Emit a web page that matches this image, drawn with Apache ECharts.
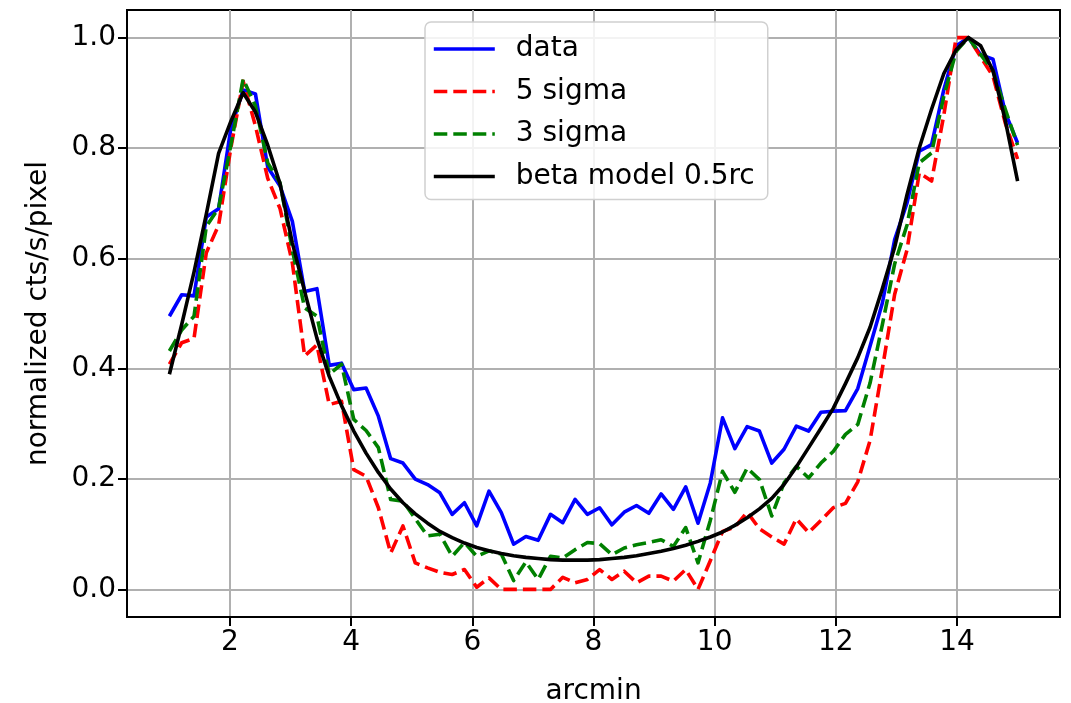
<!DOCTYPE html>
<html><head><meta charset="utf-8">
<script src="https://cdn.jsdelivr.net/npm/echarts@6/dist/echarts.min.js"></script>
<style>html,body{margin:0;padding:0;background:#fff}#c{width:1071px;height:703px}</style>
</head><body><div id="c"></div>
<script>
const xArcmin = [1.000,1.203,1.406,1.609,1.812,2.014,2.217,2.420,2.623,2.826,
3.029,3.232,3.435,3.638,3.841,4.043,4.246,4.449,4.652,4.855,
5.058,5.261,5.464,5.667,5.870,6.072,6.275,6.478,6.681,6.884,
7.087,7.290,7.493,7.696,7.899,8.101,8.304,8.507,8.710,8.913,
9.116,9.319,9.522,9.725,9.928,10.130,10.333,10.536,10.739,10.942,
11.145,11.348,11.551,11.754,11.957,12.159,12.362,12.565,12.768,12.971,
13.174,13.377,13.580,13.783,13.986,14.188,14.391,14.594,14.797,15.000];

const dataVals = [0.495,0.534,0.532,0.675,0.690,0.835,0.905,0.898,0.765,0.731,
0.667,0.540,0.545,0.406,0.410,0.362,0.365,0.314,0.237,0.229,
0.200,0.190,0.175,0.136,0.157,0.115,0.178,0.139,0.082,0.096,
0.089,0.136,0.121,0.163,0.136,0.148,0.117,0.140,0.152,0.138,
0.173,0.145,0.186,0.120,0.193,0.311,0.255,0.295,0.287,0.229,
0.254,0.296,0.287,0.321,0.323,0.324,0.364,0.441,0.519,0.634,
0.700,0.794,0.806,0.906,0.985,1.000,0.969,0.961,0.864,0.809];

const sigma5Vals = [0.408,0.447,0.455,0.610,0.660,0.800,0.921,0.840,0.745,0.690,
0.592,0.423,0.443,0.335,0.341,0.217,0.205,0.148,0.066,0.115,
0.048,0.039,0.031,0.027,0.036,0.004,0.021,0.000,0.000,0.000,
0.000,0.000,0.022,0.012,0.018,0.036,0.018,0.033,0.012,0.024,
0.024,0.015,0.036,0.000,0.052,0.105,0.113,0.140,0.110,0.095,
0.082,0.128,0.103,0.125,0.148,0.156,0.195,0.270,0.400,0.535,
0.615,0.755,0.740,0.860,1.000,1.000,0.965,0.930,0.845,0.780];

const sigma3Vals = [0.432,0.470,0.495,0.658,0.691,0.805,0.925,0.876,0.773,0.737,
0.615,0.510,0.495,0.390,0.408,0.308,0.288,0.257,0.163,0.160,
0.128,0.097,0.100,0.060,0.085,0.060,0.070,0.064,0.016,0.050,
0.018,0.060,0.057,0.072,0.085,0.083,0.063,0.075,0.081,0.085,
0.090,0.078,0.112,0.048,0.125,0.214,0.176,0.220,0.199,0.133,
0.193,0.223,0.202,0.229,0.250,0.281,0.299,0.374,0.480,0.590,
0.660,0.773,0.791,0.894,0.975,1.000,0.969,0.940,0.870,0.805];

const betaVals = [0.390,0.480,0.575,0.680,0.790,0.848,0.900,0.865,0.805,0.735,
0.628,0.540,0.455,0.386,0.333,0.287,0.247,0.212,0.182,0.157,
0.137,0.120,0.105,0.094,0.084,0.076,0.070,0.065,0.061,0.058,
0.056,0.054,0.053,0.053,0.053,0.054,0.056,0.058,0.061,0.065,
0.069,0.074,0.080,0.087,0.095,0.104,0.116,0.130,0.146,0.165,
0.190,0.222,0.257,0.292,0.328,0.373,0.420,0.475,0.545,0.620,
0.715,0.800,0.870,0.935,0.978,1.000,0.985,0.940,0.850,0.740];

const seriesNames = ['data','5 sigma','3 sigma','beta model 0.5rc'];
const xTicks = [2,4,6,8,10,12,14];
const yTicks = [0.0,0.2,0.4,0.6,0.8,1.0];

const FONT = 'DejaVu Sans';
const FS = 28;
const LW = 3.6;
const DASH = [13.5, 6];
function pairs(ys){ return xArcmin.map((x,i)=>[x, ys[i]]); }
function mk(name, ys, color, dashed){
  return {
    name: name, type:'line', data: pairs(ys), symbol:'none', showSymbol:false,
    lineStyle:{color:color, width:LW, type: dashed ? DASH : 'solid', cap:'butt', join:'round'},
    itemStyle:{color:color}, emphasis:{disabled:true}, silent:true
  };
}
const chart = echarts.init(document.getElementById('c'), null, {renderer:'canvas'});
chart.setOption({
  animation:false,
  backgroundColor:'#ffffff',
  grid:{left:127, right:11, top:10, bottom:86, show:true, borderColor:'#000', borderWidth:2,
        outerBoundsMode:'none', containLabel:false},
  xAxis:{
    type:'value', min:0.3, max:15.7,
    name:'arcmin', nameLocation:'middle', nameGap:61,
    nameTextStyle:{fontFamily:FONT, fontSize:FS, color:'#000'},
    axisLine:{show:true, onZero:false, lineStyle:{color:'#000', width:2}},
    axisTick:{show:true, customValues:xTicks, length:9, lineStyle:{color:'#000', width:2}},
    axisLabel:{customValues:xTicks, fontFamily:FONT, fontSize:FS, color:'#000', margin:12, formatter:v=>String(v)},
    splitLine:{show:true, lineStyle:{color:'#b0b0b0', width:2}}
  },
  yAxis:{
    type:'value', min:-0.05, max:1.05,
    name:'normalized cts/s/pixel', nameLocation:'middle', nameGap:74,
    nameTextStyle:{fontFamily:FONT, fontSize:FS, color:'#000'},
    axisLine:{show:true, onZero:false, lineStyle:{color:'#000', width:2}},
    axisTick:{show:true, customValues:yTicks, length:9, lineStyle:{color:'#000', width:2}},
    axisLabel:{customValues:yTicks, fontFamily:FONT, fontSize:FS, color:'#000', margin:11, formatter:v=>v.toFixed(1)},
    splitLine:{show:true, lineStyle:{color:'#b0b0b0', width:2}}
  },
  legend:{
    orient:'vertical', left:425, top:22,
    padding:[12,13,8,7], itemGap:12.5, itemWidth:61, itemHeight:14,
    backgroundColor:'rgba(255,255,255,0.85)', borderColor:'#d0d0d0', borderWidth:1.5, borderRadius:6,
    itemStyle:{color:'rgba(0,0,0,0)', borderWidth:0, opacity:0},
    lineStyle:{width:LW},
    textStyle:{fontFamily:FONT, fontSize:FS, color:'#000', lineHeight:30, padding:[0,0,0,16]},
    data:seriesNames
  },
  series:[
    mk(seriesNames[0], dataVals, '#0000ff', false),
    mk(seriesNames[1], sigma5Vals, '#ff0000', true),
    mk(seriesNames[2], sigma3Vals, '#008000', true),
    mk(seriesNames[3], betaVals, '#000000', false)
  ]
});
</script></body></html>
